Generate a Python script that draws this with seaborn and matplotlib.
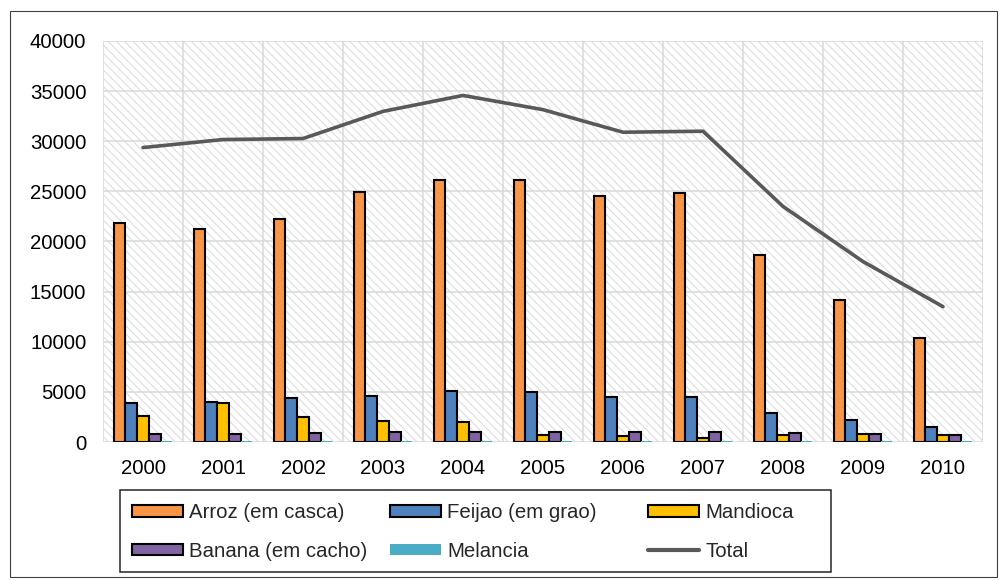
import numpy as np
import pandas as pd
import matplotlib
matplotlib.use("Agg")
import matplotlib.pyplot as plt
import seaborn as sns
from matplotlib.patches import Rectangle, Patch
from matplotlib.lines import Line2D

# Production by crop, 2000-2010
years = ["2000", "2001", "2002", "2003", "2004", "2005", "2006", "2007", "2008", "2009", "2010"]
arroz = [21800, 21250, 22200, 24950, 26150, 26150, 24500, 24850, 18650, 14150, 10400]
feijao = [3880, 3990, 4430, 4600, 5100, 4970, 4490, 4480, 2930, 2170, 1500]
mandioca = [2640, 3920, 2540, 2130, 2030, 680, 580, 400, 670, 830, 670]
banana = [780, 780, 880, 1010, 1010, 1010, 1010, 1000, 930, 770, 670]
melancia = [110, 100, 110, 100, 110, 120, 110, 100, 100, 90, 60]
total = [29370, 30170, 30270, 32980, 34570, 33150, 30900, 31000, 23500, 18000, 13500]

crops = ["Arroz (em casca)", "Feijao (em grao)", "Mandioca", "Banana (em cacho)", "Melancia"]
crop_colors = ["#F79646", "#4F81BD", "#FFC000", "#8064A2", "#4BACC6"]
total_label = "Total"
total_color = "#595959"
y_ticks = [0, 5000, 10000, 15000, 20000, 25000, 30000, 35000, 40000]

sns.set_style("white")
plt.rcParams["font.family"] = ["Liberation Sans", "DejaVu Sans"]
plt.rcParams["hatch.linewidth"] = 0.7

FS = 14.7
W, H = 1001, 581
fig = plt.figure(figsize=(W / 100, H / 100), dpi=100)
ax = fig.add_axes([103 / W, 1 - 442 / H, 880 / W, 401 / H])

wide = pd.DataFrame(dict(zip(crops, [arroz, feijao, mandioca, banana, melancia])))
wide["Ano"] = years
long = wide.melt(id_vars="Ano", var_name="Cultura", value_name="Valor")

# hatched plot-area background
ax.add_patch(Rectangle((0, 0), 1, 1, transform=ax.transAxes, facecolor="white",
                       edgecolor="#D9D9D9", hatch="\\\\\\\\", lw=0, zorder=0))

sns.barplot(data=long, x="Ano", y="Valor", hue="Cultura", hue_order=crops,
            order=years, palette=crop_colors, saturation=1, width=0.73,
            edgecolor="black", linewidth=1.5, legend=False, ax=ax, zorder=2)

# the last series is drawn without an outline
for bar in ax.containers[-1]:
    bar.set_edgecolor(bar.get_facecolor())
    bar.set_linewidth(0)

ax.plot(np.arange(len(years)), total, color=total_color, lw=2.6, zorder=4,
        solid_joinstyle="round", solid_capstyle="round")

ax.set_xlim(-0.5, len(years) - 0.5)
ax.set_ylim(y_ticks[0], y_ticks[-1])
ax.set_yticks(y_ticks)
ax.set_yticklabels([str(v) for v in y_ticks])
ax.set_xticks(np.arange(len(years)))
ax.set_xticklabels(years)
ax.set_xticks(np.arange(-0.5, len(years)), minor=True)
ax.set_xlabel("")
ax.set_ylabel("")

ax.tick_params(axis="both", which="major", length=0, labelsize=FS, labelcolor="black")
ax.tick_params(axis="y", pad=12)
ax.tick_params(axis="x", which="major", pad=12)
ax.tick_params(axis="x", which="minor", length=5, width=1.1, color="#D9D9D9", direction="out")
ax.grid(axis="y", which="major", color="#D9D9D9", lw=1.1)
ax.grid(axis="x", which="minor", color="#D9D9D9", lw=1.1)
ax.grid(axis="x", which="major", visible=False)
for s in ax.spines.values():
    s.set_visible(False)
ax.set_axisbelow(True)

# outer chart border
fig.add_artist(Rectangle((9.5 / W, 4.5 / H), 987 / W, 566 / H, transform=fig.transFigure,
                         fill=False, edgecolor="#404040", lw=0.8))

# legend frame with three equally spaced columns
fig.add_artist(Rectangle((119.5 / W, 9.5 / H), 711 / W, 82 / H, transform=fig.transFigure,
                         fill=False, edgecolor="#262626", lw=1.1))

def bar_handle(color, outline=True):
    if outline:
        return Patch(facecolor=color, edgecolor="black", lw=1.5)
    return Patch(facecolor=color, edgecolor="none", lw=0)

columns = [
    ([bar_handle(crop_colors[0]), bar_handle(crop_colors[3])], [crops[0], crops[3]], 132),
    ([bar_handle(crop_colors[1]), bar_handle(crop_colors[4], outline=False)], [crops[1], crops[4]], 390),
    ([bar_handle(crop_colors[2]),
      Line2D([0], [0], color=total_color, lw=3.0, solid_capstyle="round")],
     [crops[2], total_label], 648),
]
for handles, labels, x0 in columns:
    fig.legend(handles, labels, loc="center left",
               bbox_to_anchor=(x0 / W, (H - 532) / H), bbox_transform=fig.transFigure,
               frameon=False, borderpad=0, borderaxespad=0, handlelength=2.5,
               handleheight=0.52, handletextpad=0.3, labelspacing=0.95, fontsize=FS)

fig.savefig("out.png", dpi=100)
